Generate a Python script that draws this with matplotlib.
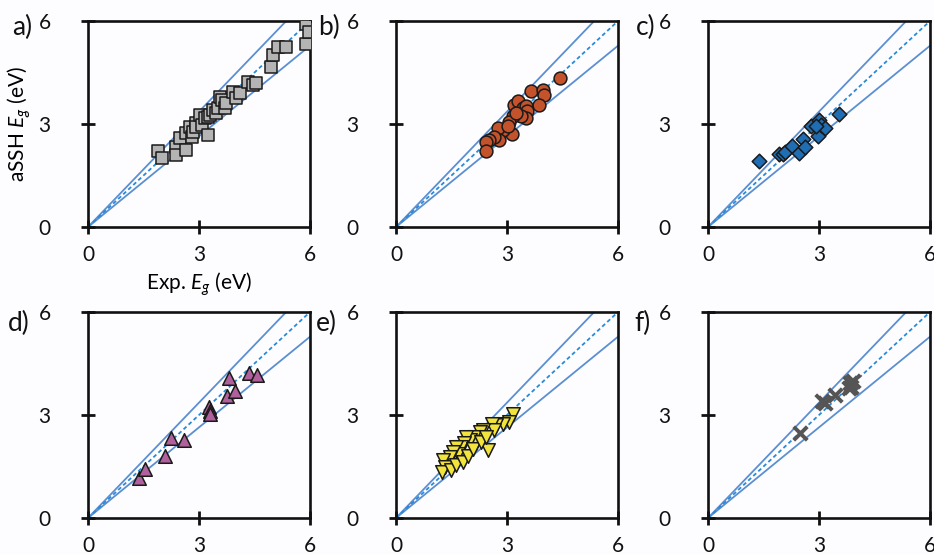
import matplotlib.pyplot as plt
import numpy as np

plt.rcParams['font.family'] = ['Lato', 'DejaVu Sans']
plt.rcParams['mathtext.fontset'] = 'custom'
plt.rcParams['mathtext.rm'] = 'Lato'
plt.rcParams['mathtext.it'] = 'Lato:italic'

# Data (Exp. Eg, aSSH Eg)
a_x = [1.90, 1.99, 2.39, 2.39, 2.48, 2.66, 2.66, 2.75, 2.80, 2.84, 2.93, 2.93, 3.02, 3.07,
       3.16, 3.25, 3.29, 3.25, 3.38, 3.47, 3.52, 3.56, 3.61, 3.70, 3.74, 3.92, 4.01, 4.10,
       4.32, 4.46, 4.55, 4.95, 5.00, 5.13, 5.35, 5.89, 5.89, 5.98]
a_y = [2.20, 2.00, 2.34, 2.10, 2.58, 2.25, 2.73, 2.92, 2.63, 2.78, 3.02, 2.92, 3.26, 2.97,
       3.17, 3.21, 3.26, 2.68, 3.41, 3.31, 3.46, 3.79, 3.70, 3.46, 3.60, 3.94, 3.75, 3.89,
       4.23, 4.13, 4.18, 4.67, 5.00, 5.25, 5.25, 5.34, 5.90, 5.68]

b_x = [4.43, 3.66, 3.98, 4.00, 3.87, 3.20, 3.29, 3.42, 3.51, 3.55, 3.51, 3.38, 3.15, 3.06,
       3.13, 2.88, 2.75, 2.79, 2.66, 2.52, 2.42, 2.44, 3.02, 3.24]
b_y = [4.34, 3.95, 4.00, 3.85, 3.56, 3.56, 3.66, 3.46, 3.51, 3.37, 3.17, 3.22, 3.22, 3.07,
       2.71, 2.83, 2.88, 2.54, 2.63, 2.54, 2.49, 2.20, 2.93, 3.32]

c_x = [1.39, 1.93, 2.02, 2.07, 2.28, 2.45, 2.56, 2.63, 2.79, 2.97, 3.00, 3.06, 3.15, 3.55, 2.92]
c_y = [1.92, 2.14, 2.12, 2.17, 2.35, 2.16, 2.57, 2.33, 2.93, 2.64, 3.11, 2.96, 2.89, 3.30, 2.93]

d_x = [1.37, 1.55, 2.09, 2.23, 2.59, 3.26, 3.31, 3.29, 3.76, 3.98, 3.80, 4.34, 4.56]
d_y = [1.17, 1.43, 1.80, 2.34, 2.28, 3.24, 3.11, 3.02, 3.55, 3.70, 4.07, 4.21, 4.17]

e_x = [3.17, 3.06, 2.88, 2.70, 2.60, 2.66, 2.48, 2.35, 2.26, 2.12, 2.17, 1.99, 1.90, 1.85,
       1.76, 1.63, 1.67, 1.54, 1.45, 1.27, 1.32, 1.23, 1.49, 1.63, 1.81, 1.94, 2.08, 2.30, 2.44]
e_y = [3.02, 2.80, 2.75, 2.70, 2.73, 2.56, 1.97, 2.56, 2.51, 2.36, 2.17, 2.26, 2.36, 2.17,
       2.07, 2.07, 1.87, 1.92, 1.78, 1.70, 1.48, 1.34, 1.39, 1.53, 1.63, 1.82, 2.02, 2.21, 2.36]

f_x = [2.49, 3.08, 3.15, 3.42, 3.84, 3.87, 3.91, 3.82]
f_y = [2.48, 3.41, 3.35, 3.58, 3.92, 3.82, 4.00, 3.78]

panels = [
    ('a)', a_x, a_y, 's', '#b4b4b4', 72),
    ('b)', b_x, b_y, 'o', '#c4532c', 85),
    ('c)', c_x, c_y, 'D', '#1f6db3', 55),
    ('d)', d_x, d_y, '^', '#b0609c', 95),
    ('e)', e_x, e_y, 'v', '#f2e43c', 95),
    ('f)', f_x, f_y, 'x', '#555555', 95),
]

upper_slope = 1.12
lower_slope = 0.88

fig = plt.figure(figsize=(9.34, 5.54), dpi=100)
fig.patch.set_facecolor('#fdfdff')

W, H = 934, 554
lefts = [88, 396, 708]
tops = [21, 312]
aw, ah = 222, 206
# panel letter positions (px, left edge / vertical centre)
lab_x = [12, 318, 636, 8, 316, 634]
lab_y = [27, 27, 27, 323, 323, 323]

line_x = np.array([0, 6])
for i, (lab, x, y, mk, col, s) in enumerate(panels):
    r, c = divmod(i, 3)
    ax = fig.add_axes([lefts[c] / W, 1 - (tops[r] + ah) / H, aw / W, ah / H])
    ax.set_facecolor('none')
    ax.plot(line_x, upper_slope * line_x, color='#5b8fd2', lw=1.3, zorder=1)
    ax.plot(line_x, lower_slope * line_x, color='#5b8fd2', lw=1.3, zorder=1)
    ax.plot(line_x, line_x, color='#2a8ad6', lw=1.3, ls=(0, (2.2, 1.6)), zorder=1)
    if mk == 'x':
        ax.scatter(x, y, marker=mk, s=s, c=col, linewidths=2.8, zorder=3)
    else:
        ax.scatter(x, y, marker=mk, s=s, c=col, edgecolors='#1a1a1a',
                   linewidths=1.1, zorder=3)
    ax.set_xlim(0, 6)
    ax.set_ylim(0, 6)
    ax.set_xticks([0, 3, 6])
    ax.set_yticks([0, 3, 6])
    ax.tick_params(direction='inout', length=10, width=2, labelsize=15, colors='#111111')
    ax.tick_params(axis='x', pad=8)
    ax.tick_params(axis='y', pad=22)
    for sp in ax.spines.values():
        sp.set_linewidth(1.9)
        sp.set_color('#111111')
    fig.text(lab_x[i] / W, 1 - lab_y[i] / H, lab, fontsize=19,
             ha='left', va='center', color='#111111')
    if i == 0:
        ax.set_ylabel('aSSH $E_g$ (eV)', fontsize=15, labelpad=4)
        ax.set_xlabel('Exp. $E_g$ (eV)', fontsize=15, labelpad=4)

fig.savefig('out.png', dpi=100, facecolor=fig.get_facecolor())
